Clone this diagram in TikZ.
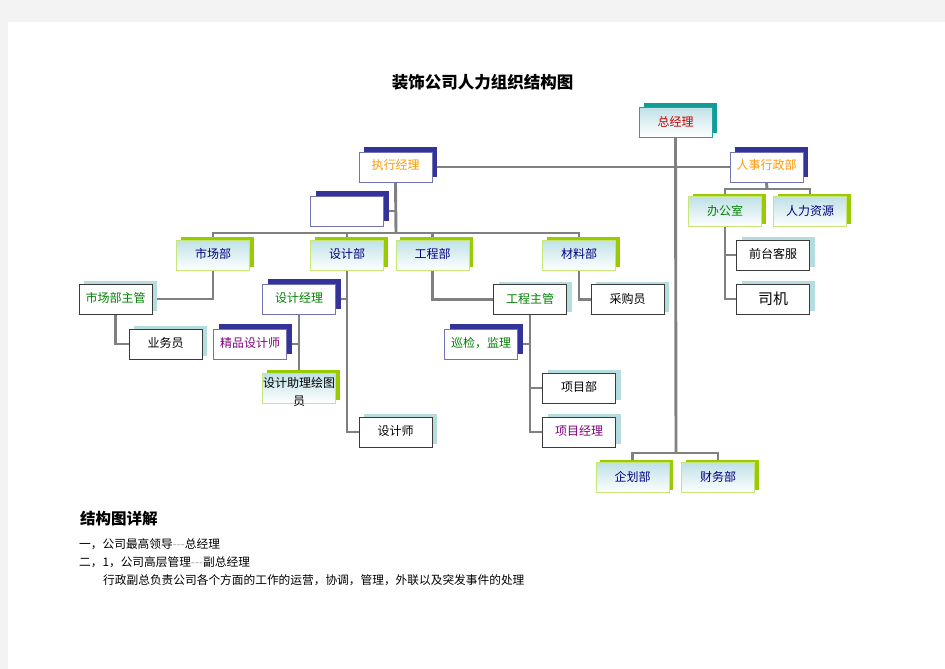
\documentclass[tikz,border=0pt]{standalone}
\usepackage{fontspec}
\setmainfont{Noto Sans CJK SC}
\usetikzlibrary{shadows,backgrounds}
\definecolor{pagegray}{HTML}{F3F3F3}
\definecolor{linegray}{HTML}{808080}
\definecolor{navyshadow}{HTML}{333399}
\definecolor{navyborder}{HTML}{7373B5}
\definecolor{greenshadow}{HTML}{99CC00}
\definecolor{greenborder}{HTML}{C8E678}
\definecolor{tealshadow}{HTML}{B5DDE0}
\definecolor{darkborder}{HTML}{3A3A3A}
\definecolor{gmshadow}{HTML}{119C98}
\definecolor{gmborder}{HTML}{1FA5A0}
\definecolor{gradtop}{HTML}{BFE1E7}
\definecolor{txorange}{HTML}{FF9900}
\definecolor{txnavy}{HTML}{000080}
\definecolor{txgreen}{HTML}{008000}
\definecolor{txpurple}{HTML}{800080}
\definecolor{txred}{HTML}{CC0000}
\newcommand\myup[2]{\raisebox{#1pt}{#2}}
\tikzset{
  boxbase/.style={minimum width=73pt, minimum height=30pt, inner sep=0pt, line width=0.9pt, font=\fontsize{12}{14}\selectfont},
  gmbox/.style={boxbase, draw=gmborder, top color=gradtop, bottom color=white,
     general shadow={fill=gmshadow, shadow xshift=5pt, shadow yshift=4pt}, text=txred},
  navybox/.style={boxbase, draw=navyborder, fill=white,
     general shadow={fill=navyshadow, shadow xshift=5pt, shadow yshift=5pt}},
  greenbox/.style={boxbase, draw=greenborder, top color=gradtop, bottom color=white,
     general shadow={fill=greenshadow, shadow xshift=4pt, shadow yshift=3pt}},
  tealbox/.style={boxbase, draw=darkborder, fill=white,
     general shadow={fill=tealshadow, shadow xshift=5pt, shadow yshift=3pt}},
  conn/.style={draw=linegray, line width=2.9pt},
  bodytext/.style={anchor=west, inner sep=0pt, font=\fontsize{11.7}{14}\selectfont},
}
\begin{document}
\begin{tikzpicture}[x=1pt,y=-1pt]
\useasboundingbox (0,0) rectangle (945,669);
\begin{pgfonlayer}{background}
  \fill[pagegray] (0,0) rectangle (945,669);
  \fill[white] (8,22) rectangle (945,669);
\end{pgfonlayer}

% title
\node[inner sep=0pt, font=\fontsize{16.5}{18}\selectfont\bfseries] (title) at (482.5,82) {装饰公司人力组织结构图};

% level 0/1
\node[gmbox] (gm) at (675.5,122) {\myup{-4}{总经理}};
\node[navybox, text=txorange] (exec) at (395.5,167) {\myup{5}{执行经理}};
\node[navybox, text=txorange] (hr) at (766.5,167) {\myup{5}{人事行政部}};
\node[navybox] (blank) at (347,211) {};

% departments
\node[greenbox, text=txnavy] (mkt) at (213,255) {\myup{3}{市场部}};
\node[greenbox, text=txnavy] (des) at (347,255) {\myup{3}{设计部}};
\node[greenbox, text=txnavy] (eng) at (432.5,255) {\myup{3}{工程部}};
\node[greenbox, text=txnavy] (mat) at (579,255) {\myup{3}{材料部}};
\node[greenbox, text=txgreen] (off) at (725,211.5) {\myup{3}{办公室}};
\node[greenbox, text=txnavy] (res) at (810,211.5) {\myup{3}{人力资源}};

% level 3
\node[tealbox, text=txgreen] (mktm) at (115.5,299) {\myup{3}{市场部主管}};
\node[navybox, text=txgreen] (desm) at (299,299) {\myup{3}{设计经理}};
\node[tealbox, text=txgreen] (engm) at (530,299.5) {\myup{3}{工程主管}};
\node[tealbox] (buy) at (627.5,299.5) {\myup{3}{采购员}};
\node[tealbox] (front) at (773,255) {\myup{3}{前台客服}};
\node[tealbox, font=\fontsize{15}{17}\selectfont] (drv) at (773,299) {\myup{-4}{司机}};

% level 4
\node[tealbox] (sales) at (165.5,344) {\myup{3}{业务员}};
\node[navybox, text=txpurple] (fine) at (250,344) {\myup{3}{精品设计师}};
\node[navybox, text=txgreen] (insp) at (481,344) {\myup{3}{巡检，监理}};
\node[greenbox] (asst) at (299,388) {};
\node[inner sep=0pt, align=center, font=\fontsize{12}{18}\selectfont] (asstt) at (299,392) {设计助理绘图\\员};
\node[tealbox] (proj) at (579,388) {\myup{3}{项目部}};
\node[tealbox] (designer) at (395.5,432) {\myup{3}{设计师}};
\node[tealbox, text=txpurple] (pm) at (579,432) {\myup{3}{项目经理}};

% bottom
\node[greenbox, text=txnavy] (plan) at (632.5,477.5) {\myup{3}{企划部}};
\node[greenbox, text=txnavy] (fin) at (718,477.5) {\myup{3}{财务部}};

% coordinates for buses
\coordinate (gmbus) at (676,453);
\coordinate (execbus) at (396,233);
\coordinate (hrbus) at (767,189);

\begin{pgfonlayer}{background}
  % general manager trunk
  \draw[conn] (gm.south) -- (gmbus);
  \draw[conn] (plan.north) |- (gmbus) -| (fin.north);
  \draw[conn] (exec.east) -- (hr.west);
  % exec
  \draw[conn] (exec.south) -- (execbus);
  \draw[conn] (blank.east) -- (blank.east -| exec.south);
  \draw[conn] (mkt.north) |- (execbus) -| (mat.north);
  \draw[conn] (des.north) -- (des.north |- execbus);
  \draw[conn] (eng.north) -- (eng.north |- execbus);
  % market
  \draw[conn] (mkt.south) |- (mktm.east);
  \draw[conn] (mktm.south) |- (sales.west);
  % design
  \draw[conn] (des.south) |- (designer.west);
  \draw[conn] (desm.east) -- (desm.east -| des.south);
  \draw[conn] (desm.south) -- (asst.north);
  \draw[conn] (fine.east) -- (fine.east -| desm.south);
  % engineering
  \draw[conn] (eng.south) |- (engm.west);
  \draw[conn] (mat.south) |- (buy.west);
  \draw[conn] (engm.south) |- (pm.west);
  \draw[conn] (insp.east) -- (insp.east -| engm.south);
  \draw[conn] (proj.west) -- (proj.west -| engm.south);
  % HR
  \draw[conn] (hr.south) -- (hrbus);
  \draw[conn] (off.north) |- (hrbus) -| (res.north);
  \draw[conn] (off.south) |- (drv.west);
  \draw[conn] (front.west) -- (front.west -| off.south);
\end{pgfonlayer}

% explanation text
\node[inner sep=0pt, anchor=west, font=\fontsize{15.5}{17}\selectfont\bfseries] (sub) at (80,519) {结构图详解};
\node[bodytext] (l1) at (79,544) {一，公司最高领导{\color{gray!70}-{}-{}-}总经理};
\node[bodytext] (l2) at (79,562) {二，1，公司高层管理{\color{gray!70}-{}-{}-}副总经理};
\node[bodytext] (l3) at (103,580) {行政副总负责公司各个方面的工作的运营，协调，管理，外联以及突发事件的处理};
\end{tikzpicture}
\end{document}
